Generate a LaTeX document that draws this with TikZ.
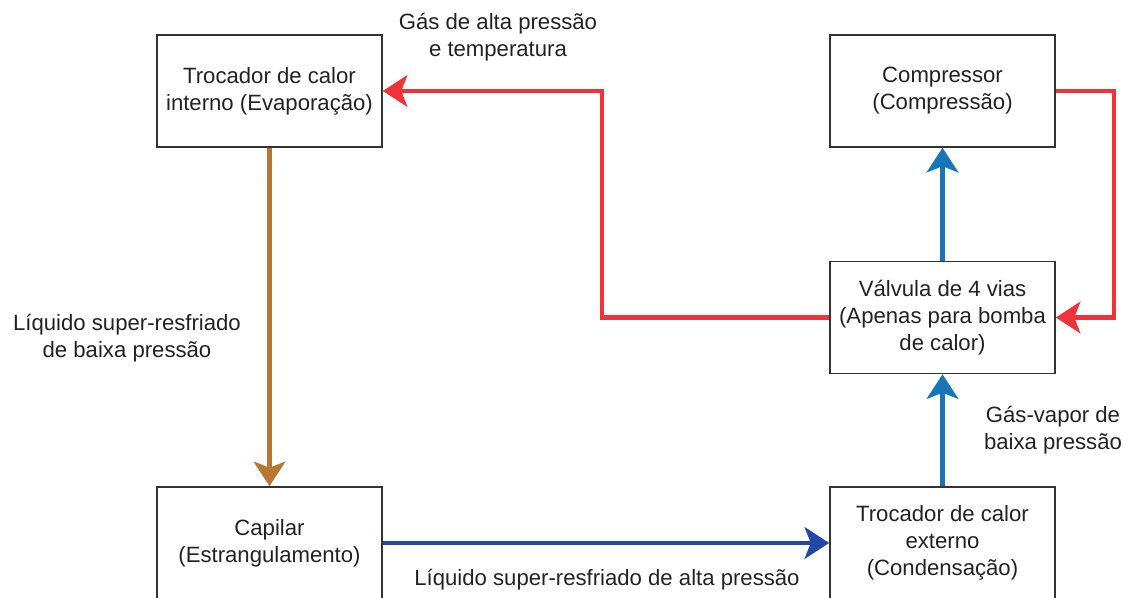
\documentclass[tikz,border=0pt]{standalone}
\usepackage{fontspec}
\setmainfont{Liberation Sans}
\usepackage{xcolor}
\usepackage{tikz}
\usetikzlibrary{arrows.meta,positioning}
\definecolor{hotred}{RGB}{238,52,56}
\definecolor{coldblue}{RGB}{22,118,184}
\definecolor{deepblue}{RGB}{33,72,168}
\definecolor{copper}{RGB}{186,118,48}
\definecolor{boxline}{RGB}{51,51,51}
\definecolor{txt}{RGB}{34,34,34}
\tikzset{
  unitbox/.style={draw=boxline, line width=0.9pt, fill=white, minimum width=4.5cm, minimum height=2.24cm, inner sep=2pt, align=center, text=txt, font=\fontsize{12.6}{15.3}\selectfont},
  flowlabel/.style={align=center, text=txt, font=\fontsize{12.6}{15.3}\selectfont},
  pipe/.style={-{Stealth[length=14pt, width=18pt, inset=3.5pt]}, line width=2.4pt},
  hotpipe/.style={pipe, draw=hotred, color=hotred},
  coldpipe/.style={pipe, draw=coldblue, color=coldblue}
}
\begin{document}
\begin{tikzpicture}[x=1cm,y=1cm]
  \useasboundingbox (0,0) rectangle (22.66,11.96);

  \node[unitbox] (evap) at (5.39,10.14) {Trocador de calor\\interno (Evaporação)};
  \node[unitbox] (comp) at (18.85,10.14) {Compressor\\(Compressão)};
  \node[unitbox] (valve) at (18.85,5.61) {Válvula de 4 vias\\(Apenas para bomba\\de calor)};
  \node[unitbox] (cap) at (5.39,1.10) {Capilar\\(Estrangulamento)};
  \node[unitbox] (cond) at (18.85,1.10) {Trocador de calor\\externo\\(Condensação)};

  \draw[hotpipe] (valve.west) -- ++(-4.54,0) |- (evap.east);
  \draw[hotpipe] (comp.east) -- ++(1.16,0) |- (valve.east);
  \draw[coldpipe] (valve.north) -- (comp.south);
  \draw[coldpipe] (cond.north) -- (valve.south);
  \draw[pipe, draw=copper, color=copper] (evap.south) -- (cap.north);
  \draw[pipe, draw=deepblue, color=deepblue] (cap.east) -- (cond.west);

  \node[flowlabel] (hotgas) at (9.96,11.22) {Gás de alta pressão\\e temperatura};
  \node[flowlabel] (lowliq) at (2.54,5.20) {Líquido super-resfriado\\de baixa pressão};
  \node[flowlabel] (lowgas) at (21.06,3.36) {Gás-vapor de\\baixa pressão};
  \node[flowlabel] (highliq) at (12.14,0.36) {Líquido super-resfriado de alta pressão};
\end{tikzpicture}
\end{document}
